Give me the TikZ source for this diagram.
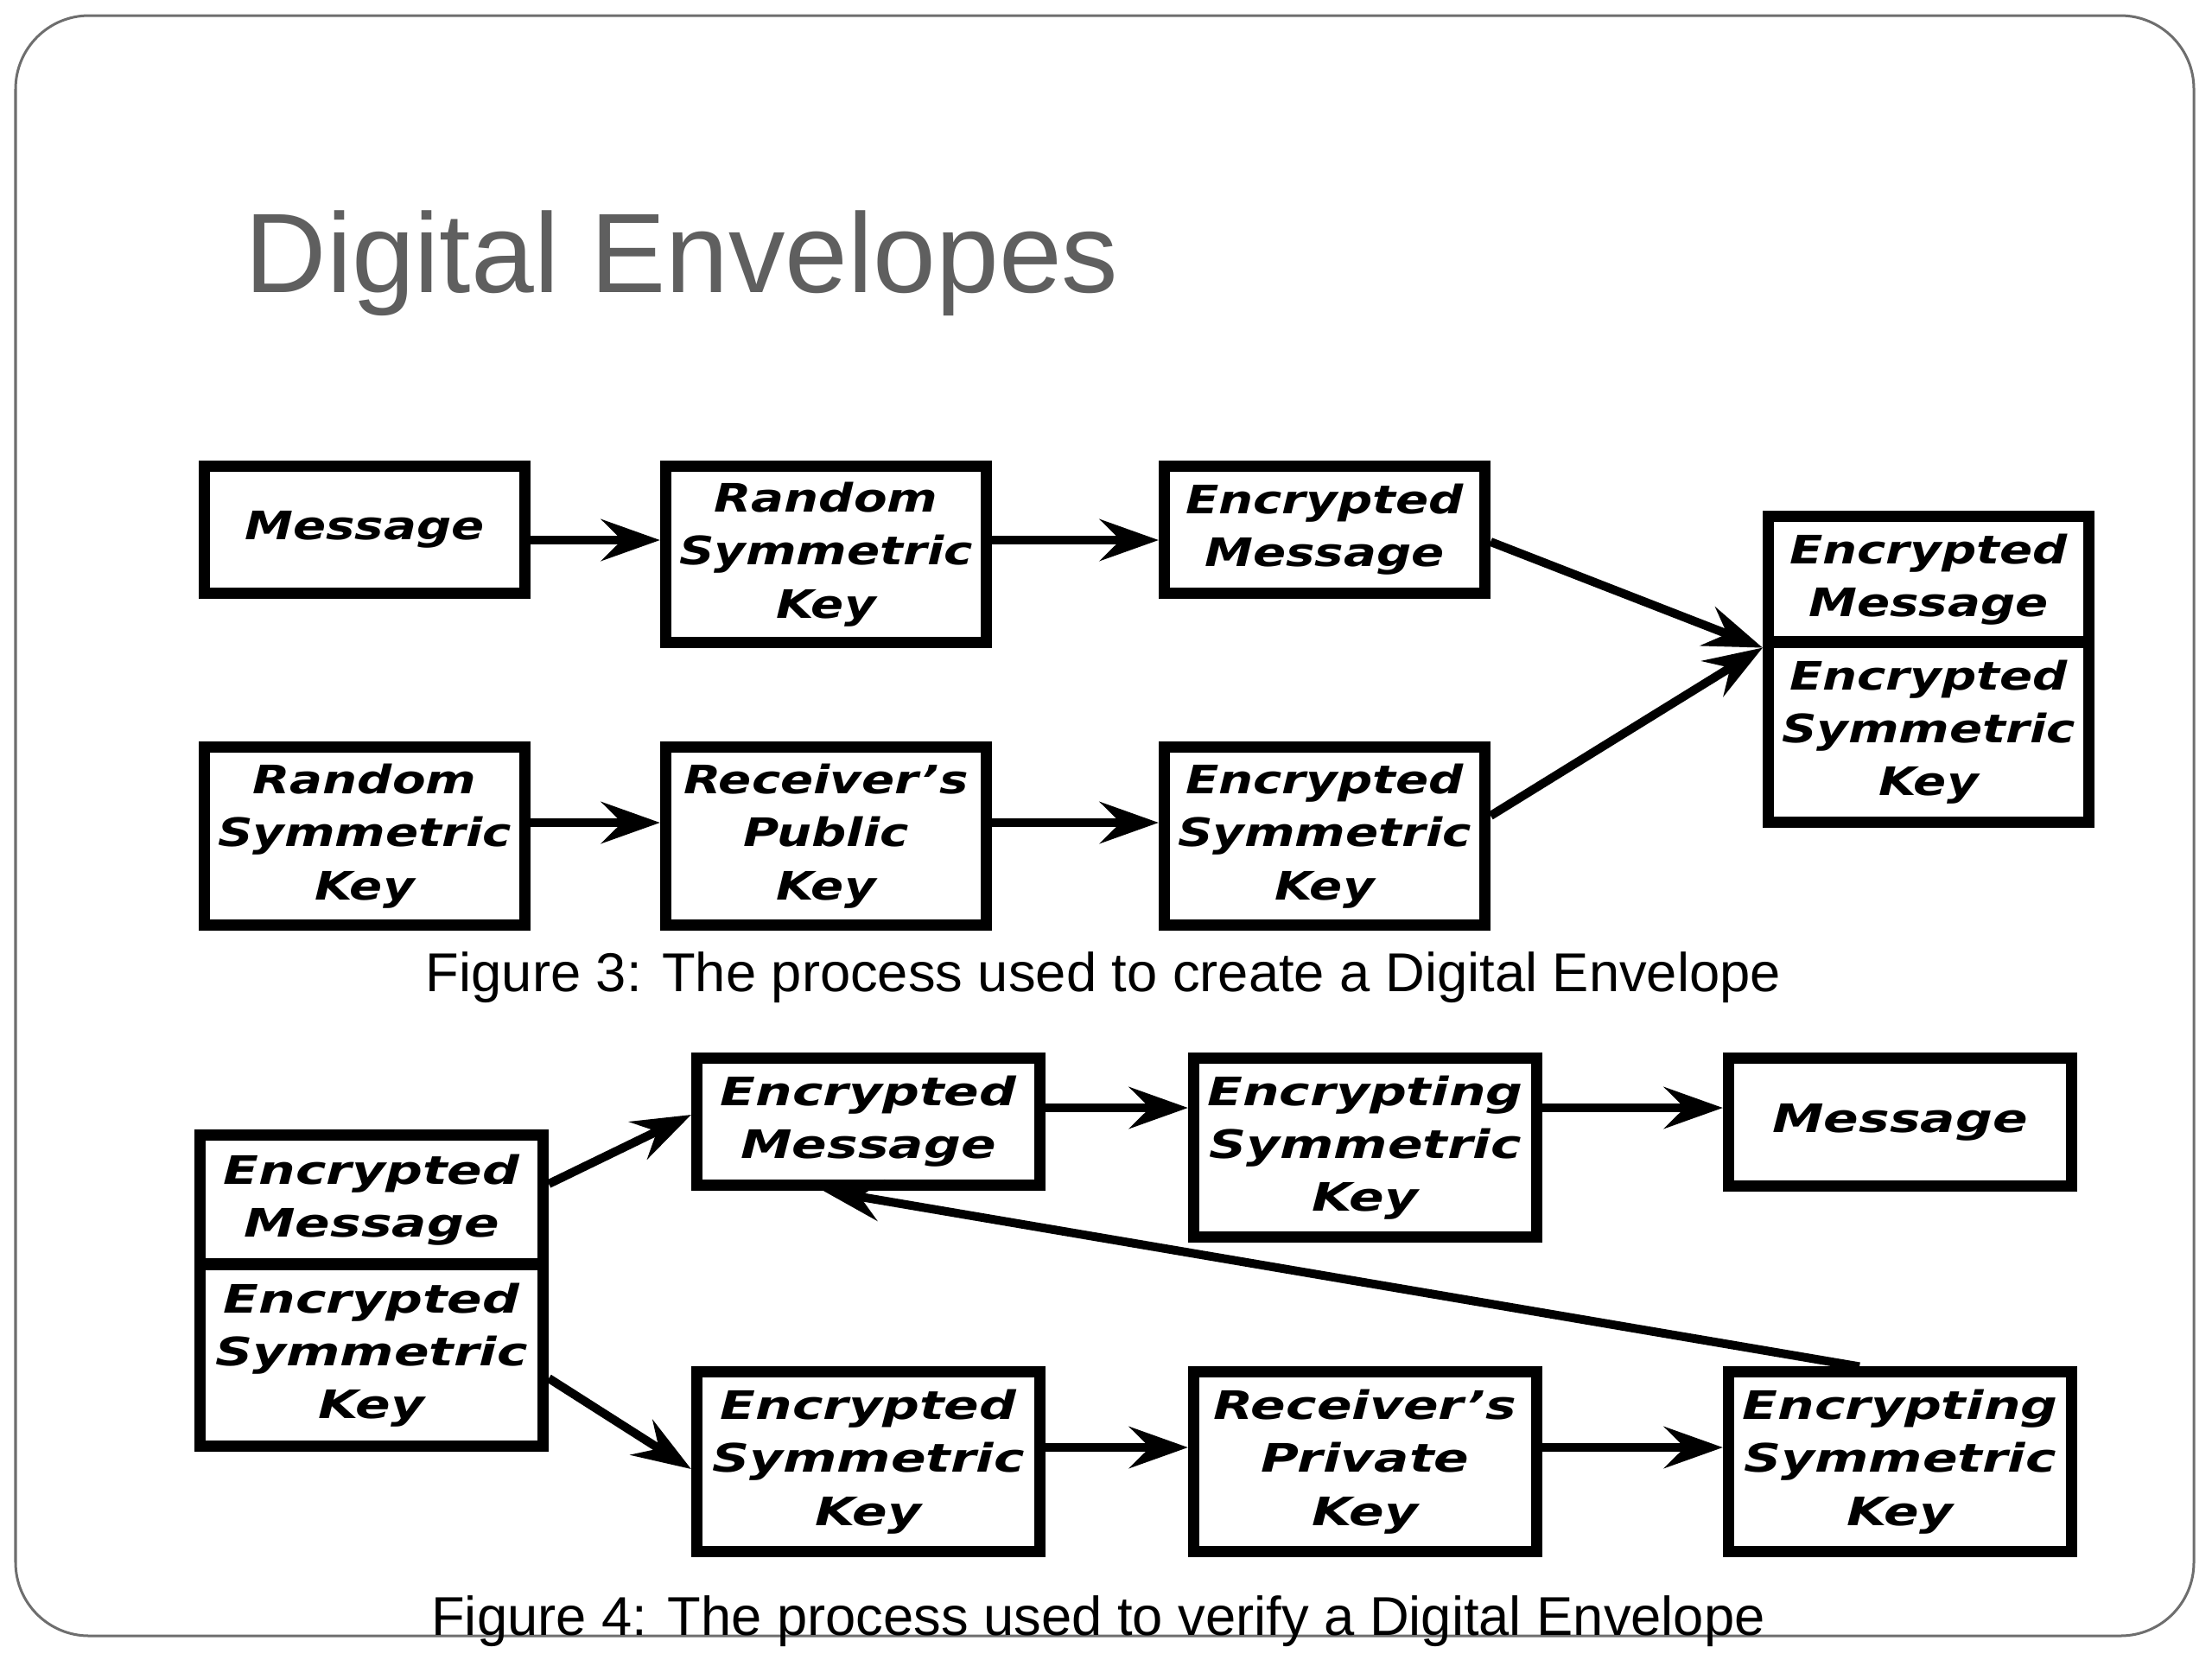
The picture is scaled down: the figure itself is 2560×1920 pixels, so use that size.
\documentclass[tikz,border=0pt]{standalone}
\usepackage{fontspec}
\setmainfont{Liberation Sans}
\newfontfamily\boxfonta[FakeStretch=1.24]{DejaVu Sans}
\newfontfamily\boxfontb[FakeStretch=1.32]{DejaVu Sans}
\usetikzlibrary{arrows.meta}
\definecolor{titlegray}{RGB}{95,95,95}
\definecolor{bordergray}{RGB}{110,110,110}
\begin{document}
\begin{tikzpicture}[x=0.01cm,y=-0.01cm,
  boxa/.style={draw, line width=0.13cm, inner sep=0pt, align=center, minimum width=3.71cm,
    font={\boxfonta\bfseries\itshape\fontsize{12.9pt}{17.4pt}\selectfont}},
  boxb/.style={draw, line width=0.13cm, inner sep=0pt, align=center, minimum width=3.97cm,
    font={\boxfontb\bfseries\itshape\fontsize{12.9pt}{17.4pt}\selectfont}},
  arr/.style={line width=0.1cm, -{Stealth[length=0.68cm, width=0.48cm, inset=0.24cm]}},
  caption/.style={anchor=base, inner sep=0pt, font={\fontsize{18pt}{21pt}\selectfont}}]
\useasboundingbox (0,0) rectangle (2560,1920);
\fill[white] (0,0) rectangle (2560,1920);
\draw[bordergray, line width=0.03cm, rounded corners=0.85cm] (18,18) rectangle (2539,1893);

\node[anchor=base west, inner sep=0pt, text=titlegray, font={\fontsize{37.2pt}{44pt}\selectfont}] (title) at (283,338) {Digital Envelopes};

% Figure 3
\node[boxa, minimum height=1.46cm] (msg) at (422,613) {Message};
\node[boxa, minimum height=2.03cm] (rsk1) at (956,641.5) {Random\\Symmetric\\Key};
\node[boxa, minimum height=1.46cm] (em1) at (1533,613) {Encrypted\\Message};
\node[boxa, minimum height=1.45cm] (cm1) at (2232,670.5) {Encrypted\\Message};
\node[boxa, minimum height=2.08cm] (cm2) at (2232,847) {Encrypted\\Symmetric\\Key};
\node[boxa, minimum height=2.05cm] (rsk2) at (422,967.5) {Random\\Symmetric\\Key};
\node[boxa, minimum height=2.05cm] (rpk) at (956,967.5) {Receiver’s\\Public\\Key};
\node[boxa, minimum height=2.05cm] (esk1) at (1533,967.5) {Encrypted\\Symmetric\\Key};

\draw[arr] (msg.east |- 0,625) -- (rsk1.west |- 0,625);
\draw[arr] (rsk1.east |- 0,625) -- (em1.west |- 0,625);
\draw[arr] (em1.east |- 0,627) -- (cm1.south west);
\draw[arr] (esk1.east |- 0,944) -- (cm1.south west);
\draw[arr] (rsk2.east |- 0,952) -- (rpk.west |- 0,952);
\draw[arr] (rpk.east |- 0,952) -- (esk1.west |- 0,952);

\node[caption] (cap3) at (1277,1147) {Figure 3: The process used to create a Digital Envelope};

% Figure 4
\node[boxb, minimum height=1.49cm] (lc1) at (430,1388.5) {Encrypted\\Message};
\node[boxb, minimum height=2.10cm] (lc2) at (430,1568) {Encrypted\\Symmetric\\Key};
\node[boxb, minimum height=1.46cm] (em4) at (1005,1298) {Encrypted\\Message};
\node[boxb, minimum height=2.06cm] (eskt) at (1580,1328) {Encrypting\\Symmetric\\Key};
\node[boxb, minimum height=1.47cm] (msg4) at (2199,1298.5) {Message};
\node[boxb, minimum height=2.07cm] (esk4) at (1005,1691.5) {Encrypted\\Symmetric\\Key};
\node[boxb, minimum height=2.07cm] (rprk) at (1580,1691.5) {Receiver’s\\Private\\Key};
\node[boxb, minimum height=2.07cm] (encb) at (2199,1691.5) {Encrypting\\Symmetric\\Key};

\draw[arr] (lc1.east |- 0,1370) -- (em4.west |- 0,1290);
\draw[arr] (lc2.east |- 0,1595) -- (esk4.west |- 0,1700);
\draw[arr] (em4.east |- 0,1282) -- (eskt.west |- 0,1282);
\draw[arr] (eskt.east |- 0,1282) -- (msg4.west |- 0,1282);
\draw[arr] (esk4.east |- 0,1675) -- (rprk.west |- 0,1675);
\draw[arr] (rprk.east |- 0,1675) -- (encb.west |- 0,1675);
\draw[arr] (encb.north -| 2152,0) -- (em4.south -| 952,0);

\node[caption] (cap4) at (1271,1892) {Figure 4: The process used to verify a Digital Envelope};
\end{tikzpicture}
\end{document}
